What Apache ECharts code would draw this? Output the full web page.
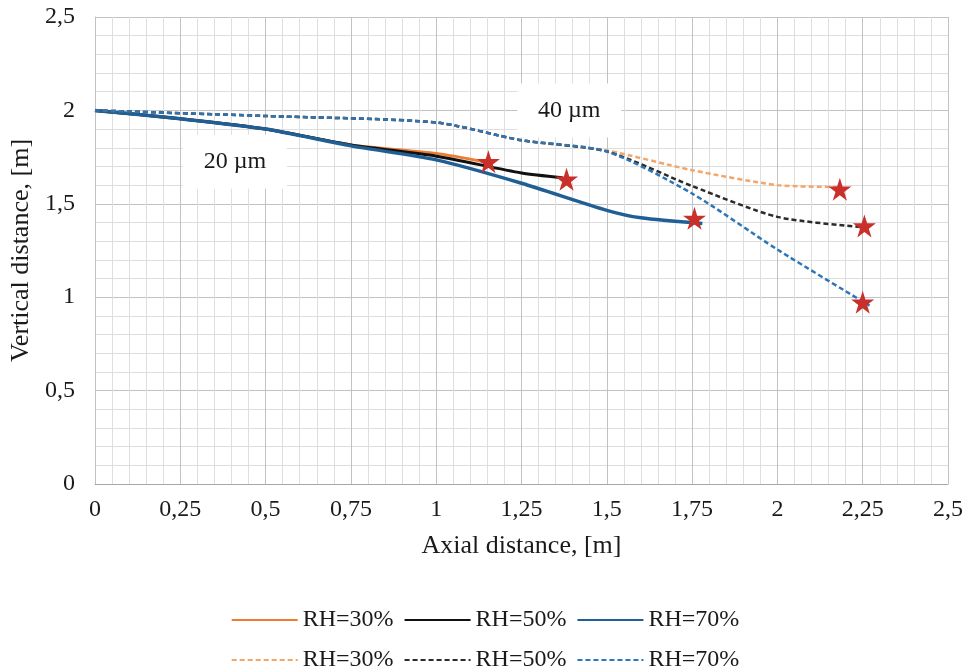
<!DOCTYPE html>
<html>
<head>
<meta charset="utf-8">
<script src="https://cdn.jsdelivr.net/npm/echarts@6/dist/echarts.min.js"></script>
<style>
  html, body { margin: 0; padding: 0; background: #fff; }
  #chart { width: 970px; height: 668px; }
</style>
</head>
<body>
<div id="chart"></div>
<script>
// 20 µm droplets (solid lines)
const x20_30 = [0, 0.25, 0.5, 0.75, 1, 1.14];
const y20_30 = [2, 1.955, 1.9, 1.815, 1.77, 1.725];
const x20_50 = [0, 0.25, 0.5, 0.75, 1, 1.25, 1.37];
const y20_50 = [2, 1.955, 1.9, 1.815, 1.755, 1.665, 1.64];
const x20_70 = [0, 0.25, 0.5, 0.75, 1, 1.25, 1.5, 1.6, 1.78];
const y20_70 = [2, 1.955, 1.9, 1.81, 1.735, 1.61, 1.465, 1.425, 1.395];

// 40 µm droplets (dashed lines)
const x40_30 = [0, 0.5, 1, 1.25, 1.5, 1.75, 2, 2.18];
const y40_30 = [2, 1.97, 1.935, 1.84, 1.785, 1.68, 1.6, 1.59];
const x40_50 = [0, 0.5, 1, 1.25, 1.5, 1.75, 2, 2.25];
const y40_50 = [2, 1.97, 1.935, 1.84, 1.78, 1.595, 1.43, 1.375];
const x40_70 = [0, 0.5, 1, 1.25, 1.5, 1.75, 2, 2.27];
const y40_70 = [2, 1.97, 1.935, 1.84, 1.78, 1.555, 1.255, 0.955];

// end-of-trajectory stars
const starX = [1.153, 1.382, 1.757, 2.183, 2.255, 2.25];
const starY = [1.725, 1.631, 1.422, 1.578, 1.381, 0.973];

// text boxes
const noteText = ['20 µm', '40 µm'];
const noteX = [0.41, 1.39];
const noteY = [1.725, 1.999];

const FONT = 'Liberation Serif, Times New Roman, serif';
const STAR = 'path://M50,0 L61.2,34.5 L97.6,34.5 L68.2,55.9 L79.4,90.5 L50,69.1 L20.6,90.5 L31.8,55.9 L2.4,34.5 L38.8,34.5 Z';

const pairs = (xs, ys) => xs.map((x, i) => [x, ys[i]]);
const comma = v => String(v).replace('.', ',');

function lineSeries(name, xs, ys, color, width, dashed) {
  return {
    name: name,
    type: 'line',
    data: pairs(xs, ys),
    smooth: 0.25,
    symbol: 'none',
    lineStyle: { color: color, width: width, type: dashed ? [5, 3] : 'solid' },
    itemStyle: { color: color },
    z: 3
  };
}

const chart = echarts.init(document.getElementById('chart'));

const legendBase = {
  left: 'center', itemWidth: 66, itemHeight: 24, itemGap: 10,
  itemStyle: { opacity: 0 },
  formatter: n => n.split(' (')[0],
  textStyle: { fontFamily: FONT, fontSize: 24, color: '#1a1a1a' }
};

const option = {
  animation: false,
  backgroundColor: '#fff',
  grid: { left: 95, right: 22, top: 17, bottom: 184 },
  xAxis: {
    type: 'value', min: 0, max: 2.5, interval: 0.25,
    name: 'Axial distance, [m]', nameLocation: 'middle', nameGap: 49,
    nameTextStyle: { fontFamily: FONT, fontSize: 26, color: '#1a1a1a' },
    axisLine: { show: true, lineStyle: { color: '#a6a6a6' } },
    axisTick: { show: false },
    axisLabel: { formatter: comma, fontFamily: FONT, fontSize: 24, color: '#1a1a1a', margin: 14 },
    splitLine: { show: true, lineStyle: { color: '#c2c2c2', width: 1 } },
    minorTick: { show: false, splitNumber: 5 },
    minorSplitLine: { show: true, lineStyle: { color: '#dedede', width: 1 } }
  },
  yAxis: {
    type: 'value', min: 0, max: 2.5, interval: 0.5,
    name: 'Vertical distance, [m]', nameLocation: 'middle', nameGap: 50,
    nameTextStyle: { fontFamily: FONT, fontSize: 26, color: '#1a1a1a' },
    axisLine: { show: true, lineStyle: { color: '#c2c2c2' } },
    axisTick: { show: false },
    axisLabel: { formatter: comma, fontFamily: FONT, fontSize: 24, color: '#1a1a1a', margin: 20 },
    splitLine: { show: true, lineStyle: { color: '#c2c2c2', width: 1 } },
    minorTick: { show: false, splitNumber: 5 },
    minorSplitLine: { show: true, lineStyle: { color: '#dedede', width: 1 } }
  },
  legend: [
    Object.assign({}, legendBase, {
      data: ['RH=30% (20 µm)', 'RH=50% (20 µm)', 'RH=70% (20 µm)'],
      top: 603
    }),
    Object.assign({}, legendBase, {
      data: ['RH=30% (40 µm)', 'RH=50% (40 µm)', 'RH=70% (40 µm)'],
      top: 643
    })
  ],
  series: [
    {
      name: 'notes',
      type: 'scatter',
      silent: true,
      symbol: 'rect',
      symbolSize: [104, 54],
      itemStyle: { color: '#ffffff', opacity: 1 },
      data: noteX.map((x, i) => ({ value: [x, noteY[i]], label: { formatter: noteText[i] } })),
      label: { show: true, position: 'inside', fontFamily: FONT, fontSize: 24, color: '#1a1a1a' },
      z: 1
    },
    lineSeries('RH=30% (20 µm)', x20_30, y20_30, '#ED7D31', 3, false),
    lineSeries('RH=50% (20 µm)', x20_50, y20_50, '#111111', 3, false),
    lineSeries('RH=70% (20 µm)', x20_70, y20_70, '#1F5F96', 3.5, false),
    lineSeries('RH=30% (40 µm)', x40_30, y40_30, '#F2A66A', 2.5, true),
    lineSeries('RH=50% (40 µm)', x40_50, y40_50, '#2b2b2b', 2.5, true),
    lineSeries('RH=70% (40 µm)', x40_70, y40_70, '#2E75B6', 2.5, true),
    {
      name: 'end',
      type: 'scatter',
      symbol: STAR,
      symbolSize: 23,
      itemStyle: { color: '#C9302C', opacity: 1 },
      data: pairs(starX, starY),
      z: 5
    }
  ]
};

chart.setOption(option);
</script>
</body>
</html>
